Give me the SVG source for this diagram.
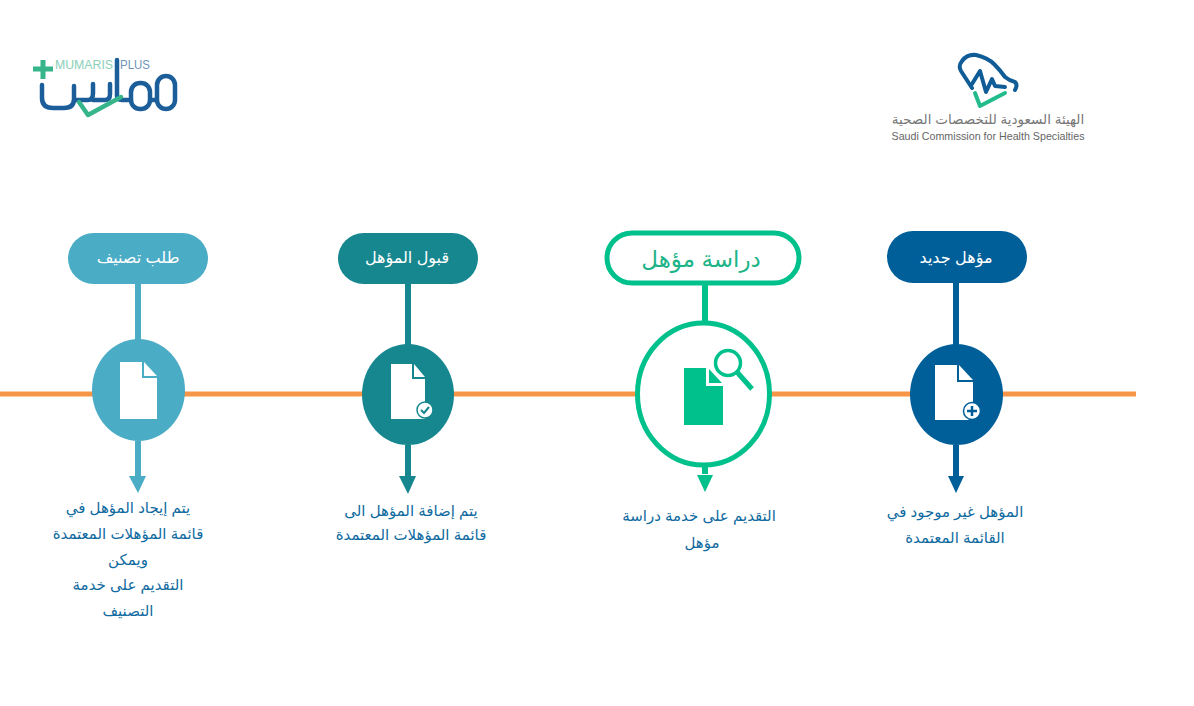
<svg xmlns="http://www.w3.org/2000/svg" width="1194" height="706" viewBox="0 0 1194 706">
<style>
text{font-family:"Liberation Sans","DejaVu Sans","Noto Sans",sans-serif;text-anchor:middle}
.t{font-size:15px;fill:#0F6AA0}
.p{font-size:16px;fill:#fff}
.s{stroke-width:6;fill:none}
.d{fill:#fff}
.l{fill:none;stroke-linecap:round;stroke-linejoin:round}
</style>
<rect width="1194" height="706" fill="#fff"/>
<g id="logo-mumaris">
<path d="M43 60V79M33 69H53" stroke="#37B58A" stroke-width="5" fill="none"/>
<text x="84" y="69" textLength="58" lengthAdjust="spacingAndGlyphs" style="font-size:13px;fill:#8CD0B8">MUMARIS</text>
<text x="135" y="69" textLength="30" lengthAdjust="spacingAndGlyphs" style="font-size:13px;fill:#6F93B5">PLUS</text>
<path class="l" stroke="#1B5E9A" stroke-width="4.500" d="M42 85V98Q42 108 53 108H64Q74 108 74 99V86M74 100H88Q93 100 93 93V84M93 100H105Q110 100 110 94V84M117 60V96Q117 100 122 100H131"/>
<rect x="131" y="83" width="19" height="26" rx="9" fill="none" stroke="#1B5E9A" stroke-width="4.500"/>
<rect x="157" y="76" width="18" height="33" rx="9" fill="none" stroke="#1B5E9A" stroke-width="4.500"/>
<path d="M150 100H157" stroke="#1B5E9A" stroke-width="4.500"/>
<path class="l" stroke="#37B58A" stroke-width="4.500" d="M79 102L88 115L121 97"/>
</g>
<g id="logo-scfhs">
<path class="l" stroke="#0F5C97" stroke-width="4" d="M972 88L961 71Q958 66 962 61Q967 54 976 55Q988 58 994 64Q1000 70 1005 77Q1010 81 1015 82Q1018 85 1015 90"/>
<path class="l" stroke="#0F5C97" stroke-width="4" d="M972 84L980 71L986 92L992 79L995 86L1005 87"/>
<path class="l" stroke="#22BC8C" stroke-width="4" d="M975 93L980 106L1005 93"/>
<text x="988" y="124" style="font-size:13.500px;fill:#777">الهيئة السعودية للتخصصات الصحية</text>
<text x="988" y="140" style="font-size:11px;fill:#666" textLength="193" lengthAdjust="spacingAndGlyphs">Saudi Commission for Health Specialties</text>
</g>
<g id="connectors">
<path id="timeline" d="M0 394H1136" stroke="#F79646" stroke-width="5" fill="none"/>
<path class="s" stroke="#4BACC6" d="M138 284V340M138 441V478"/><path fill="#4BACC6" d="M129 476H146L138 493Z"/>
<path class="s" stroke="#17878F" d="M408 284V345M408 445V478"/><path fill="#17878F" d="M399 476H416L408 494Z"/>
<path class="s" stroke="#00C08B" d="M705 285V322M705 467V474"/><path fill="#00C08B" d="M697 475H713L705 492Z"/>
<path class="s" stroke="#005F99" d="M956 283V345M956 445V478"/><path fill="#005F99" d="M948 476H964L956 493Z"/>
</g>
<g id="node-classification">
<rect x="68" y="233" width="140" height="51" rx="25.500" fill="#4BACC6"/>
<text class="p" x="138" y="263">طلب تصنيف</text>
<ellipse cx="138.500" cy="390" rx="46.500" ry="51" fill="#4BACC6"/>
<path class="d" d="M120 362H142V378H157V419H120Z"/><path class="d" d="M144 362L157 376H144Z"/>
<text class="t" x="128" y="513">يتم إيجاد المؤهل في</text>
<text class="t" x="128" y="539">قائمة المؤهلات المعتمدة</text>
<text class="t" x="128" y="565">ويمكن</text>
<text class="t" x="128" y="590">التقديم على خدمة</text>
<text class="t" x="128" y="616">التصنيف</text>
</g>
<g id="node-accepted">
<rect x="338" y="233" width="140" height="51" rx="25.500" fill="#17878F"/>
<text class="p" x="407" y="263">قبول المؤهل</text>
<ellipse cx="408" cy="394.500" rx="46" ry="50.500" fill="#17878F"/>
<path class="d" d="M391 364H412V379H425V419H391Z"/><path class="d" d="M414 364L425 377H414Z"/>
<circle cx="425" cy="410" r="8" fill="#fff" stroke="#17878F" stroke-width="1.500"/>
<path d="M421 410L424 413L429 407" fill="none" stroke="#17878F" stroke-width="2"/>
<text class="t" x="411" y="516">يتم إضافة المؤهل الى</text>
<text class="t" x="411" y="540">قائمة المؤهلات المعتمدة</text>
</g>
<g id="node-study">
<rect x="607" y="233" width="192" height="50" rx="25" fill="#fff" stroke="#00C08B" stroke-width="5"/>
<text x="701" y="267" style="font-size:23px;fill:#1DB488">دراسة مؤهل</text>
<ellipse cx="703.500" cy="394" rx="66" ry="71" fill="#fff" stroke="#00C08B" stroke-width="5"/>
<path fill="#00C08B" d="M684 368H706V386H723V425H684Z"/><path fill="#00C08B" d="M709 369L722 383H709Z"/>
<circle cx="728" cy="363" r="12.500" fill="#fff" stroke="#00C08B" stroke-width="3.500"/>
<path d="M737 372L752 389" stroke="#00C08B" stroke-width="5" fill="none"/>
<text class="t" x="699" y="521">التقديم على خدمة دراسة</text>
<text class="t" x="702" y="548">مؤهل</text>
</g>
<g id="node-new">
<rect x="887" y="231" width="140" height="52" rx="26" fill="#005F99"/>
<text class="p" x="956" y="263">مؤهل جديد</text>
<ellipse cx="956.500" cy="394.500" rx="46.500" ry="50.500" fill="#005F99"/>
<path class="d" d="M935 365H957V382H973V420H935Z"/><path class="d" d="M959 365L973 380H959Z"/>
<circle cx="972" cy="411" r="8.500" fill="#fff" stroke="#005F99" stroke-width="1.500"/>
<path d="M972 406V416M967 411H977" stroke="#005F99" stroke-width="2.500" fill="none"/>
<text class="t" x="955" y="517">المؤهل غير موجود في</text>
<text class="t" x="955" y="543">القائمة المعتمدة</text>
</g>
</svg>
